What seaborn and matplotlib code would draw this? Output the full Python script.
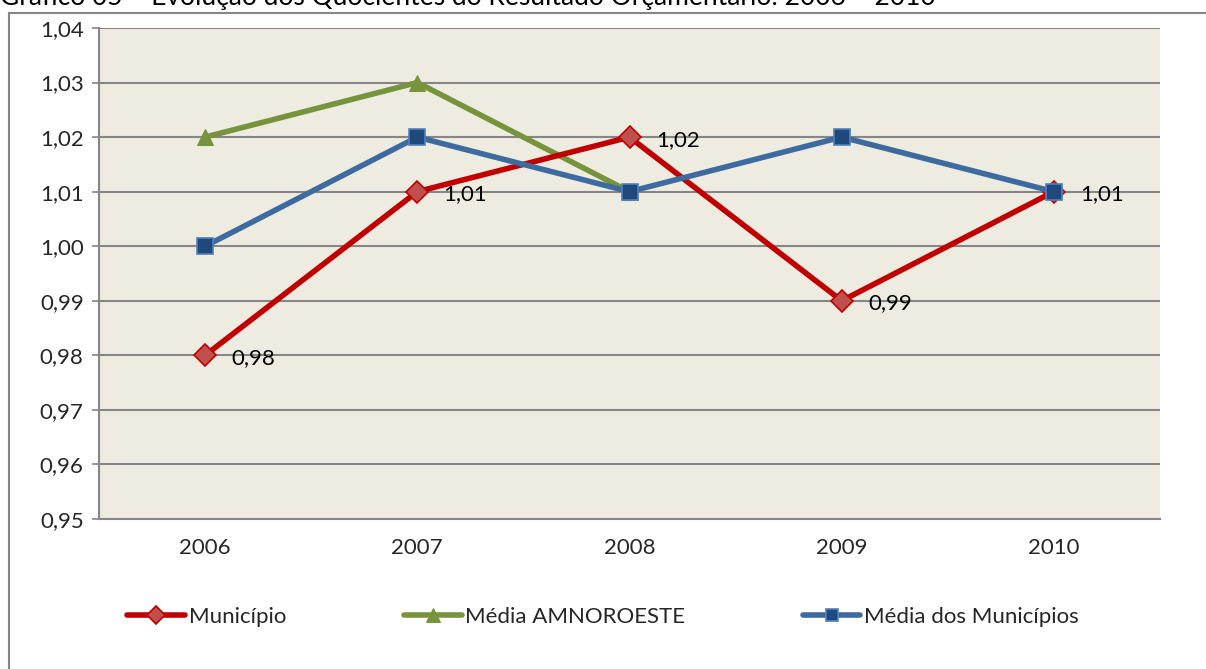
import matplotlib
matplotlib.use('Agg')
import matplotlib.pyplot as plt
import seaborn as sns
import numpy as np
from matplotlib.patches import Rectangle

# dados
anos = ['2006', '2007', '2008', '2009', '2010']
municipio = [0.98, 1.01, 1.02, 0.99, 1.01]
media_amnoroeste = [1.02, 1.03, 1.01, np.nan, np.nan]
media_municipios = [1.00, 1.02, 1.01, 1.02, 1.01]
rotulos_municipio = ['0,98', '1,01', '1,02', '0,99', '1,01']
yticks = [0.95, 0.96, 0.97, 0.98, 0.99, 1.00, 1.01, 1.02, 1.03, 1.04]

sns.set_style('white')
plt.rcParams['font.family'] = ['Lato', 'DejaVu Sans']

fig = plt.figure(figsize=(12.06, 6.69), dpi=100)
ax = fig.add_axes([99 / 1206, 1 - 519 / 669, 1061 / 1206, 491 / 669])
ax.set_facecolor('#EEECE1')

# moldura do gráfico
fig.patches.append(Rectangle((9 / 1206, -0.05), 1.2, 1 - 13 / 669 + 0.05,
                             transform=fig.transFigure, fill=False,
                             edgecolor='#868686', linewidth=1.5, zorder=0))

# título (cortado no topo, como no original)
fig.text(0.0, 1 - 5 / 669, 'Gráfico 05 – Evolução dos Quocientes do Resultado Orçamentário: 2006 – 2010',
         fontsize=19, va='baseline', ha='left', color='#000000')

x = np.arange(len(anos))
sns.lineplot(x=x, y=municipio, ax=ax, color='#C00000', linewidth=4,
             marker='D', markersize=11, markerfacecolor='#C0504D',
             markeredgecolor='#C00000', markeredgewidth=1.2, label='Município', zorder=3)
sns.lineplot(x=x, y=media_amnoroeste, ax=ax, color='#77933C', linewidth=4,
             marker='^', markersize=12, markerfacecolor='#77933C',
             markeredgecolor='#77933C', label='Média AMNOROESTE', zorder=2)
sns.lineplot(x=x, y=media_municipios, ax=ax, color='#3D6BA0', linewidth=4,
             marker='s', markersize=11, markerfacecolor='#1F497D',
             markeredgecolor='#4F81BD', markeredgewidth=1.2, label='Média dos Municípios', zorder=4)

# rótulos de dados do município
for xi, yi, txt in zip(x, municipio, rotulos_municipio):
    ax.annotate(txt, (xi, yi), xytext=(19, -2), textcoords='offset points',
                ha='left', va='center', fontsize=16, color='#000000', zorder=5)

ax.set_xlim(-0.5, len(anos) - 0.5)
ax.set_ylim(0.95, 1.04)
ax.set_yticks(yticks)
ax.set_yticklabels([f'{v:.2f}'.replace('.', ',') for v in yticks], fontsize=16)
ax.set_xticks(x)
ax.set_xticklabels(anos, fontsize=16)
ax.tick_params(axis='x', length=0, pad=14)
ax.tick_params(axis='y', length=5, width=1.2, color='#868686', pad=6, left=True)
ax.yaxis.grid(True, color='#868686', linewidth=1.5)
ax.set_axisbelow(True)
for s in ['top', 'right']:
    ax.spines[s].set_visible(False)
for s in ['left', 'bottom']:
    ax.spines[s].set_color('#868686')
    ax.spines[s].set_linewidth(1.5)

leg = ax.legend(loc='center', bbox_to_anchor=(0.5, 1 - 617 / 669), bbox_transform=fig.transFigure,
                ncol=3, frameon=False, fontsize=16, handlelength=2.6, handletextpad=0.15,
                columnspacing=5.3, markerscale=0.85)

fig.savefig('out.png', dpi=100)
